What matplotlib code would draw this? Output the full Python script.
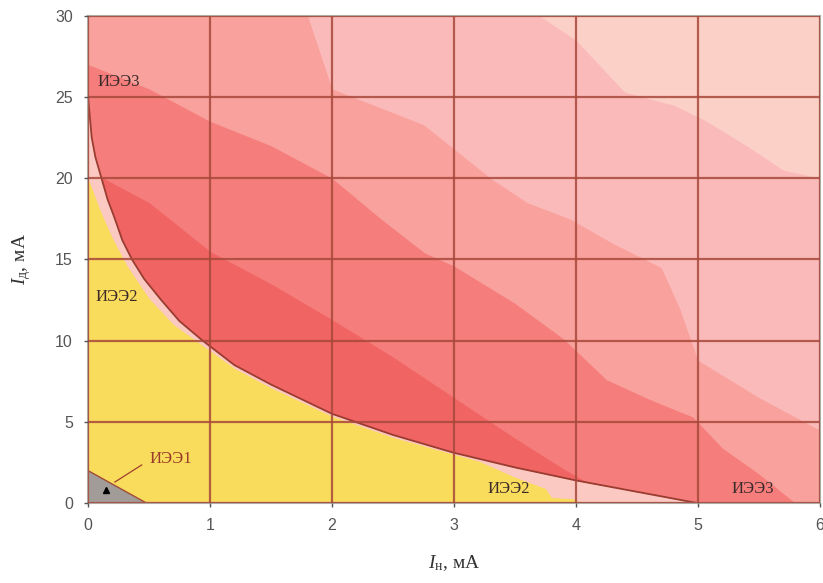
import matplotlib
matplotlib.use('Agg')
import matplotlib.pyplot as plt

# ---- data ----
# boundary of the red zone (curve drawn as a line)
curve_x = [0, 0.03, 0.06, 0.11, 0.16, 0.22, 0.28, 0.36, 0.46, 0.6, 0.75, 0.94, 1.2, 1.5, 2.0, 2.5, 3.0, 3.5, 4.0, 4.5, 5.0]
curve_y = [25, 22.5, 21.3, 20, 18.7, 17.5, 16.2, 15, 13.8, 12.5, 11.2, 10, 8.5, 7.3, 5.5, 4.2, 3.1, 2.2, 1.4, 0.7, 0]

# yellow zone (ИЭЭ2)
yel_x = [0, 0.05, 0.1, 0.2, 0.32, 0.5, 0.7, 0.94, 1.2, 1.5, 2.0, 2.5, 3.0, 3.2, 3.5, 3.75, 3.8, 4.0, 4.02]
yel_y = [20, 19, 18, 16.3, 14.6, 12.6, 11.0, 9.7, 8.3, 7.1, 5.35, 4.05, 3.0, 2.6, 1.6, 0.9, 0.35, 0.25, 0]

# grey zone (ИЭЭ1)
gray_x = [0, 0.48]
gray_y = [2.0, 0]

# shading bands above the curve (upper edge of each band)
b1_x = [0, 0.5, 1.0, 1.5, 2.0, 2.5, 3.0, 3.5, 3.9, 4.1]
b1_y = [20.5, 18.5, 15.5, 13.5, 11.3, 9.0, 6.5, 4.0, 2.1, 1.25]
b2_x = [0, 0.5, 1.0, 1.5, 2.0, 2.4, 2.76, 3.0, 3.5, 3.9, 4.25, 4.6, 4.96, 5.2, 5.5, 5.8]
b2_y = [27, 25.5, 23.5, 22, 20, 17.5, 15.4, 14.6, 12.3, 10.1, 7.6, 6.4, 5.3, 3.4, 1.8, 0]
b3_x = [0, 1.8, 2.0, 2.75, 3.0, 3.3, 3.6, 3.95, 4.3, 4.7, 4.85, 5.0, 5.5, 6.0]
b3_y = [30, 30, 25.5, 23.3, 21.8, 20, 18.5, 17.5, 16, 14.5, 12.0, 8.8, 6.5, 4.5]
b4_x = [0, 3.7, 4.0, 4.4, 4.8, 5.05, 5.4, 5.7, 6.0]
b4_y = [30, 30, 28.5, 25.3, 24.5, 23.6, 22.0, 20.5, 20]

zone_labels = ['ИЭЭ3', 'ИЭЭ2', 'ИЭЭ1', 'ИЭЭ2', 'ИЭЭ3']
zone_lx = [0.08, 0.06, 0.5, 3.45, 5.45]
zone_ly = [25.9, 12.7, 2.7, 0.9, 0.9]

xticks = [0, 1, 2, 3, 4, 5, 6]
yticks = [0, 5, 10, 15, 20, 25, 30]

plt.rcParams['mathtext.fontset'] = 'custom'
plt.rcParams['mathtext.rm'] = 'Liberation Serif'
plt.rcParams['mathtext.it'] = 'Liberation Serif:italic'

fig = plt.figure(figsize=(8.23, 5.83), dpi=100)
ax = fig.add_axes([0.107, 0.137, 0.889, 0.836])
ax.set_facecolor('#fbd0c6')

ax.fill_between(b4_x, 0, b4_y, color='#fbbaba', lw=0)
ax.fill_between(b3_x, 0, b3_y, color='#f9a19d', lw=0)
ax.fill_between(b2_x, 0, b2_y, color='#f57e7c', lw=0)
ax.fill_between(b1_x, 0, b1_y, color='#f06464', lw=0)
ax.fill_between(curve_x, 0, curve_y, color='#fbc9c2', lw=0)
ax.fill_between(yel_x, 0, yel_y, color='#f9dc5c', lw=0)
ax.fill_between(gray_x, 0, gray_y, color='#a29c98', lw=0)
ax.plot(gray_x, gray_y, color='#a04a3a', lw=1.0)
ax.plot(curve_x, curve_y, color='#9a3c30', lw=1.3)

# zone captions
for i, t in enumerate(zone_labels):
    c = '#9a3a2a' if t == 'ИЭЭ1' else '#3a2a2a'
    ax.text(zone_lx[i], zone_ly[i], t, fontsize=12, family='Liberation Serif',
            color=c, va='center', ha='left' if i < 3 else 'center')
ax.plot([0.22, 0.44], [1.3, 2.35], color='#a0402c', lw=0.9)
ax.plot([0.15], [0.8], marker='^', color='black', ms=4)

ax.set_xlim(0, 6)
ax.set_ylim(0, 30)
ax.set_xticks(xticks)
ax.set_yticks(yticks)
ax.set_xticklabels(xticks, fontsize=11.5, color='#555555', family='Liberation Sans')
ax.set_yticklabels(yticks, fontsize=11.5, color='#555555', family='Liberation Sans')
ax.tick_params(direction='out', length=3, width=1, color='#555555', pad=8)
ax.grid(True, color='#a8483a', lw=1.6, alpha=0.85)
ax.set_axisbelow(False)

for s in ['top', 'bottom', 'left', 'right']:
    ax.spines[s].set_color('#b0aaa4')
    ax.spines[s].set_linewidth(1.5)

ax.set_xlabel(r'$I_{\mathrm{н}}$, мА', fontsize=14, family='Liberation Serif', color='#333333', labelpad=14)
ax.set_ylabel(r'$I_{\mathrm{д}}$, мА', fontsize=14, family='Liberation Serif', color='#333333', labelpad=16)

plt.savefig('out.png', dpi=100)
